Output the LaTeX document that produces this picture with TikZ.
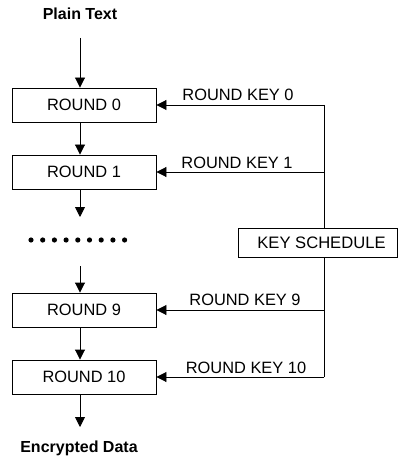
\documentclass[tikz,border=0pt]{standalone}
\usepackage{fontspec}
\setmainfont{Liberation Sans}
\usetikzlibrary{arrows.meta}
\begin{document}
\begin{tikzpicture}[x=1pt,y=-1pt,
  roundbox/.style={draw,line width=0.9pt,minimum width=144pt,minimum height=34pt,inner sep=0pt,font=\fontsize{16.4}{18}\selectfont},
  keybox/.style={draw,line width=0.9pt,minimum width=159pt,minimum height=29pt,inner sep=0pt,font=\fontsize{16.6}{18}\selectfont},
  keylabel/.style={inner sep=0pt,font=\fontsize{16.4}{18}\selectfont},
  title/.style={inner sep=0pt,font=\bfseries\fontsize{16}{18}\selectfont},
  arr/.style={line width=0.9pt,-{Triangle[length=10pt,width=10pt]}},
  ln/.style={line width=0.9pt}]
\useasboundingbox (0,0) rectangle (398,457);
\node[title] (pt) at (80,14) {Plain Text};
\node[roundbox] (r0) at (84,105) {ROUND 0};
\node[roundbox] (r1) at (84,172) {ROUND 1};
\node[roundbox] (r9) at (84,310) {ROUND 9};
\node[roundbox] (r10) at (84,377) {ROUND 10};
\node[title] (ed) at (79,448) {Encrypted Data};
\node[keybox] (ks) at (318,242.5) {\hspace*{7pt}KEY SCHEDULE};
\coordinate (ax) at (80,0);
\coordinate (a0) at (80,38);
\coordinate (a1) at (80,217);
\coordinate (a9) at (80,266);
\coordinate (a10) at (80,427);
\coordinate (k0) at (324,105);
\coordinate (k1) at (324,172);
\coordinate (k9) at (324,310);
\coordinate (k10) at (324,377);
% vertical flow
\draw[arr] (a0) -- (r0.north -| ax);
\draw[arr] (r0.south -| ax) -- (r1.north -| ax);
\draw[arr] (r1.south -| ax) -- (a1);
\draw[arr] (a9) -- (r9.north -| ax);
\draw[arr] (r9.south -| ax) -- (r10.north -| ax);
\draw[arr] (r10.south -| ax) -- (a10);
% dots
\foreach \i in {0,...,8} \fill (31+11.7*\i,240) circle (2.6pt);
% key schedule
\draw[ln] (k0) -- (ks.north -| k0);
\draw[ln] (ks.south -| k0) -- (k10);
\draw[arr] (k0) -- (r0.east);
\draw[arr] (k1) -- (r1.east);
\draw[arr] (k9) -- (r9.east);
\draw[arr] (k10) -- (r10.east);
\node[keylabel] (l0) at (238,95) {ROUND KEY 0};
\node[keylabel] (l1) at (237,163) {ROUND KEY 1};
\node[keylabel] (l9) at (245,300) {ROUND KEY 9};
\node[keylabel] (l10) at (246,368) {ROUND KEY 10};
\end{tikzpicture}
\end{document}
